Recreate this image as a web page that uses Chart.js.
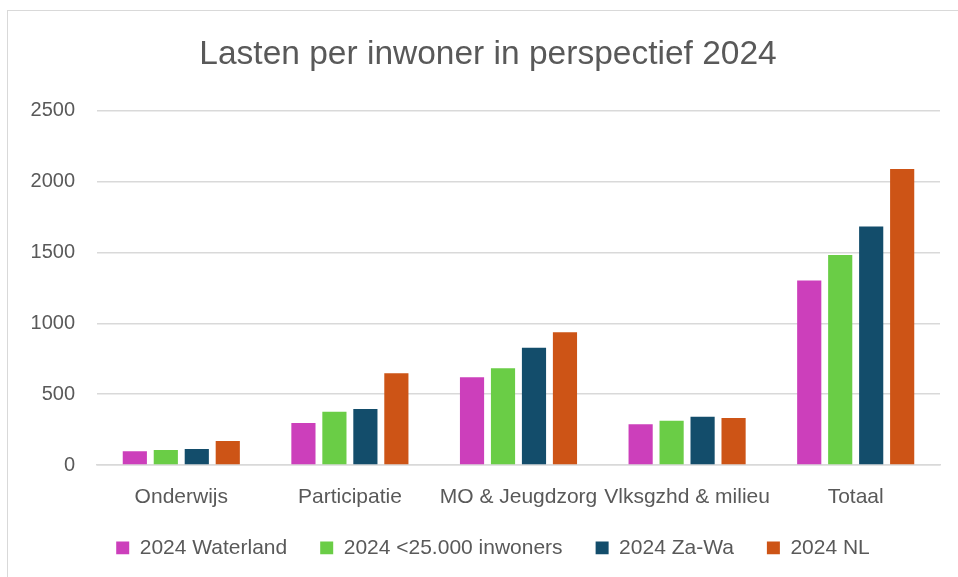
<!DOCTYPE html>
<html>
<head>
<meta charset="utf-8">
<script src="https://cdn.jsdelivr.net/npm/chart.js@4/dist/chart.umd.min.js"></script>
<style>
  html, body { margin: 0; padding: 0; background: #fff; overflow: hidden; }
  #wrap { position: relative; width: 958px; height: 577px; }
  #frame {
    position: absolute; left: 7px; top: 10px; width: 980px; height: 600px;
    border: 1.5px solid #d9d9d9; pointer-events: none;
  }
  canvas { position: absolute; left: 0; top: 0; }
</style>
</head>
<body>
<div id="wrap">
  <canvas id="chart" width="958" height="577"></canvas>
  <div id="frame"></div>
</div>
<script>
// chart data
const categories = ["Onderwijs", "Participatie", "MO & Jeugdzorg", "Vlksgzhd & milieu", "Totaal"];
const waterland = [97, 297, 619, 287, 1302];
const onder25000 = [106, 376, 683, 313, 1481];
const zaWa = [113, 395, 828, 341, 1683];
const nl = [169, 647, 937, 332, 2088];
const yTicks = [0, 500, 1000, 1500, 2000, 2500];

const textColor = "#595959";
const gridColor = "#d9d9d9";

const makeSet = (label, data, color) => ({
    label,
    data,
    backgroundColor: color,
    borderWidth: 0,
    barPercentage: 0.78,
    categoryPercentage: 0.735
});

// nudge title and legend a bit, like the original
const shiftBoxes = {
    id: "shiftBoxes",
    afterLayout(chart) {
        const t = chart.titleBlock;
        if (t) { t.left += 8; t.right += 8; }
        const l = chart.legend;
        if (l) {
            l.left += 13; l.right += 13;
            const h = l.height;
            l.top = 504.5; l.bottom = l.top + h;
        }
    }
};

new Chart(document.getElementById("chart"), {
    type: "bar",
    data: {
        labels: categories,
        datasets: [
            makeSet("2024 Waterland", waterland, "#cc3fbb"),
            makeSet("2024 <25.000 inwoners", onder25000, "#6acd46"),
            makeSet("2024 Za-Wa", zaWa, "#134d6b"),
            makeSet("2024 NL", nl, "#cd5416")
        ]
    },
    plugins: [shiftBoxes],
    options: {
        responsive: false,
        animation: false,
        layout: { padding: { left: 20, right: 18, top: 0, bottom: 7 } },
        plugins: {
            title: {
                display: true,
                text: "Lasten per inwoner in perspectief 2024",
                color: textColor,
                font: { family: "Liberation Sans", size: 33.5, weight: "normal" },
                padding: { top: 35, bottom: 35.5 }
            },
            legend: {
                position: "bottom",
                maxHeight: 50,
                labels: {
                    color: textColor,
                    font: { family: "Liberation Sans", size: 21 },
                    boxWidth: 13,
                    boxHeight: 13,
                    padding: 33
                }
            },
            tooltip: { enabled: false }
        },
        scales: {
            x: {
                grid: { display: false },
                border: { color: gridColor, width: 1.5 },
                ticks: {
                    color: textColor,
                    font: { family: "Liberation Sans", size: 21, lineHeight: 1 },
                    padding: 14,
                    maxRotation: 0,
                    autoSkip: false
                },
                afterFit: (s) => { s.height = 55; }
            },
            y: {
                min: 0,
                max: 2500,
                afterBuildTicks: (s) => { s.ticks = yTicks.map(v => ({ value: v })); },
                grid: { color: gridColor, lineWidth: 1.5, drawTicks: false },
                border: { display: false },
                ticks: {
                    color: textColor,
                    font: { family: "Liberation Sans", size: 20 },
                    padding: 22,
                    callback: (v) => String(v)
                },
                afterFit: (s) => { s.width = 77; }
            }
        }
    }
});
</script>
</body>
</html>
